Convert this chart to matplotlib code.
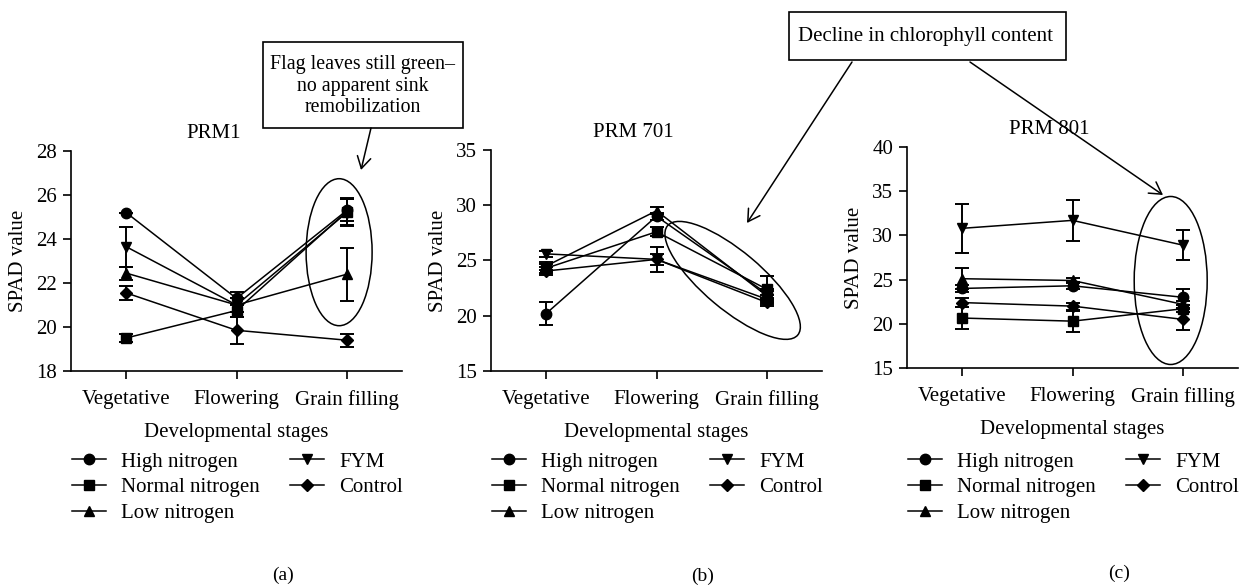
import matplotlib
matplotlib.use("Agg")
import matplotlib.pyplot as plt
import matplotlib.transforms as mtransforms
from matplotlib.patches import Ellipse, Rectangle, FancyArrowPatch

plt.rcParams['font.family'] = ['Liberation Serif', 'DejaVu Serif']
plt.rcParams['font.size'] = 15

W, H = 1248, 588

stages = ["Vegetative", "Flowering", "Grain filling"]
treatments = ["High nitrogen", "Normal nitrogen", "Low nitrogen", "FYM", "Control"]
markers = ["o", "s", "^", "v", "D"]
msizes = [7.5, 7, 7.5, 7.5, 6.5]

# PRM1
prm1_vals = [
    [25.2, 21.3, 25.3],
    [19.5, 20.75, 25.25],
    [22.45, 21.0, 22.4],
    [23.65, 21.0, 25.2],
    [21.55, 19.85, 19.4],
]
prm1_err = [
    [0.0, 0.3, 0.5],
    [0.2, 0.3, 0.6],
    [0.3, 0.3, 1.2],
    [0.9, 0.3, 0.6],
    [0.3, 0.6, 0.3],
]
# PRM 701
prm701_vals = [
    [20.2, 29.0, 22.0],
    [24.3, 27.6, 22.4],
    [24.5, 29.5, 21.8],
    [25.6, 25.1, 21.5],
    [24.05, 25.1, 21.2],
]
prm701_err = [
    [1.0, 0.3, 0.4],
    [0.4, 0.4, 1.2],
    [0.4, 0.3, 0.4],
    [0.3, 1.1, 0.4],
    [0.4, 0.5, 0.3],
]
# PRM 801
prm801_vals = [
    [24.0, 24.3, 23.0],
    [20.65, 20.3, 21.7],
    [25.1, 24.9, 22.2],
    [30.8, 31.7, 28.9],
    [22.4, 22.0, 20.5],
]
prm801_err = [
    [0.4, 0.4, 0.9],
    [1.2, 1.2, 0.4],
    [1.2, 0.3, 0.4],
    [2.8, 2.3, 1.7],
    [0.5, 0.4, 1.2],
]

panels = [
    dict(title="PRM1", vals=prm1_vals, err=prm1_err, ylim=(18, 28), yticks=[18, 20, 22, 24, 26, 28],
         left=71, top=151, bottom=371, tag="(a)",
         ell=(1.93, 23.4, 66, 147, 0)),
    dict(title="PRM 701", vals=prm701_vals, err=prm701_err, ylim=(15, 35), yticks=[15, 20, 25, 30, 35],
         left=491, top=150, bottom=371, tag="(b)",
         ell=(1.69, 23.2, 170, 58, -40)),
    dict(title="PRM 801", vals=prm801_vals, err=prm801_err, ylim=(15, 40), yticks=[15, 20, 25, 30, 35, 40],
         left=907, top=147, bottom=368, tag="(c)",
         ell=(1.89, 24.9, 73, 168, 0)),
]


def px(x, y):
    # pixel position from top-left -> figure fraction
    return x / W, 1 - y / H


fig = plt.figure(figsize=(W / 100, H / 100), dpi=100)
x = list(range(len(stages)))

for p in panels:
    ax = fig.add_axes([p["left"] / W, 1 - p["bottom"] / H, 331 / W, (p["bottom"] - p["top"]) / H])
    for name, m, ms, v, e in zip(treatments, markers, msizes, p["vals"], p["err"]):
        ax.errorbar(x, v, yerr=e, fmt="none", ecolor="k", elinewidth=1.4, capsize=5, capthick=1.4)
        ax.plot(x, v, color="k", lw=1.1, marker=m, ms=ms, label=name)
    ax.set_xlim(-0.5, 2.5)
    ax.set_ylim(*p["ylim"])
    ax.set_yticks(p["yticks"])
    ax.set_xticks(x)
    ax.set_xticklabels(stages)
    for s in ["top", "right"]:
        ax.spines[s].set_visible(False)
    for s in ["left", "bottom"]:
        ax.spines[s].set_linewidth(1.2)
    ax.tick_params(direction="out", length=6, width=1.2, pad=4)
    ax.tick_params(axis="x", pad=8)
    ax.set_ylabel("SPAD value", labelpad=6)
    ax.set_xlabel("Developmental stages", labelpad=9)
    ax.text(0.43, 1.08, p["title"], transform=ax.transAxes, ha="center", va="center")
    ax.legend(loc="upper left", bbox_to_anchor=px(p["left"] + 1, 452), bbox_transform=fig.transFigure,
              ncol=2, frameon=False, borderpad=0, borderaxespad=0, handlelength=1.65,
              handletextpad=0.7, columnspacing=1.45, labelspacing=0.3)
    ax.text(0.64, -0.93, p["tag"], transform=ax.transAxes, ha="center", va="center", fontsize=14)

    ex, ey, ew, eh, ang = p["ell"]
    tr = fig.dpi_scale_trans + mtransforms.ScaledTranslation(ex, ey, ax.transData)
    ax.add_artist(Ellipse((0, 0), ew / 100, eh / 100, angle=ang, fill=False, lw=1.1,
                          transform=tr, clip_on=False))

# annotation boxes
x0, y0 = px(263, 128)
x1, y1 = px(463, 42)
fig.add_artist(Rectangle((x0, y0), x1 - x0, y1 - y0, fill=False, lw=1.2, transform=fig.transFigure))
fig.text(*px(363, 86), "Flag leaves still green–\nno apparent sink\nremobilization",
         ha="center", va="center", multialignment="center", linespacing=1.2, fontsize=14.3)

x0, y0 = px(789, 60)
x1, y1 = px(1066, 12)
fig.add_artist(Rectangle((x0, y0), x1 - x0, y1 - y0, fill=False, lw=1.2, transform=fig.transFigure))
fig.text(*px(926, 36), "Decline in chlorophyll content", ha="center", va="center")

for (sx, sy), (tx, ty) in [((371, 128), (361, 170)), ((852, 62), (747, 223)), ((970, 62), (1163, 195))]:
    fig.add_artist(FancyArrowPatch(px(sx, sy), px(tx, ty), transform=fig.transFigure,
                                   arrowstyle="->,head_length=0.6,head_width=0.35", mutation_scale=14,
                                   lw=1.1, color="k", shrinkA=0, shrinkB=0))

fig.savefig("out.png", dpi=100)
